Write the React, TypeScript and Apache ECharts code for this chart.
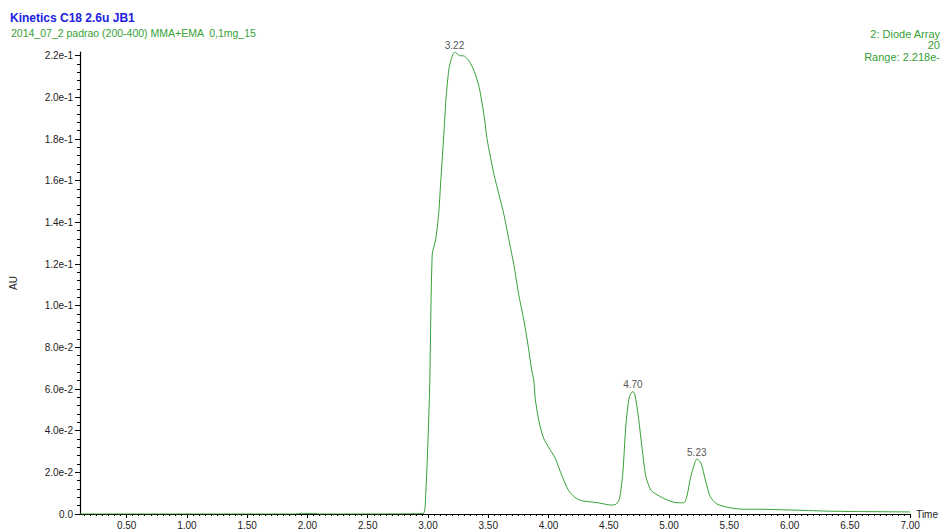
import React, { useEffect, useRef } from "react";
import * as echarts from "echarts";

// Chromatogram trace: retention time (min) and absorbance (AU)
const times = [
  0.113, 1.9, 1.95, 2.04, 2.1, 2.959, 2.981, 3.0, 3.014, 3.035, 3.063, 3.088, 3.104, 3.124,
  3.137, 3.151, 3.173, 3.192, 3.211, 3.22, 3.261, 3.302, 3.343, 3.384, 3.425, 3.466, 3.491,
  3.548, 3.589, 3.63, 3.671, 3.712, 3.753, 3.795, 3.836, 3.86, 3.877, 3.891, 3.918, 3.959,
  4.014, 4.055, 4.109, 4.164, 4.219, 4.274, 4.411, 4.52, 4.561, 4.589, 4.616, 4.643, 4.671,
  4.7, 4.717, 4.745, 4.781, 4.808, 4.849, 4.904, 4.986, 5.068, 5.123, 5.15, 5.177, 5.214,
  5.23, 5.265, 5.301, 5.342, 5.397, 5.506, 5.616, 5.726, 6.013, 6.301, 6.506, 7.0,
];
const absorbance = [
  0.0, 0.0, 0.0003, 0.0003, 0.0, 0.0002, 0.0099, 0.0356, 0.0612, 0.1245, 0.1317, 0.1437,
  0.158, 0.1757, 0.1877, 0.2005, 0.2134, 0.2182, 0.2211, 0.2218, 0.2201, 0.2198, 0.2173,
  0.2125, 0.2047, 0.1909, 0.1797, 0.1629, 0.1533, 0.1437, 0.1317, 0.1197, 0.1052, 0.0932,
  0.0788, 0.0692, 0.0644, 0.0548, 0.0452, 0.0364, 0.0308, 0.0268, 0.0187, 0.0115, 0.008,
  0.0064, 0.0054, 0.0043, 0.0047, 0.0075, 0.0196, 0.0436, 0.0564, 0.0588, 0.0572, 0.0468,
  0.0292, 0.0179, 0.0115, 0.0091, 0.0067, 0.0054, 0.0054, 0.0091, 0.0172, 0.0247, 0.0264,
  0.0244, 0.0163, 0.0083, 0.0048, 0.003, 0.0023, 0.0023, 0.0019, 0.0014, 0.0012, 0.001,
];

// Apex retention times annotated above the peaks
const peakTimes = [3.22, 4.7, 5.23];

// Axis ticks
const xTickValues = [0.5, 1.0, 1.5, 2.0, 2.5, 3.0, 3.5, 4.0, 4.5, 5.0, 5.5, 6.0, 6.5, 7.0];
const yTickValues = [0, 0.02, 0.04, 0.06, 0.08, 0.1, 0.12, 0.14, 0.16, 0.18, 0.2, 0.22];

// Header lines
const titleText = "Kinetics C18 2.6u JB1";
const sampleText = "2014_07_2 padrao (200-400) MMA+EMA  0,1mg_15";
const detectorLines = ["2: Diode Array", "20", "Range: 2.218e-"];

const X_MIN = 0.113;
const X_MAX = 7.0;
const Y_MAX = 0.2218;

const GREEN = "#36a036";
const FONT = "'Liberation Sans', Arial, sans-serif";

function formatAU(v: number): string {
  if (Math.abs(v) < 1e-12) return "0.0";
  const exp = Math.floor(Math.log10(v) + 1e-9);
  const m = v / Math.pow(10, exp);
  return m.toFixed(1) + "e" + exp;
}

function minorSteps(from: number, to: number, step: number): number[] {
  const out: number[] = [];
  const n = Math.round((to - from) / step);
  for (let i = 0; i <= n; i++) out.push(+(from + i * step).toFixed(4));
  return out;
}

export default function App() {
  const ref = useRef<HTMLDivElement>(null);

  useEffect(() => {
    if (!ref.current) return;
    const chart = echarts.init(ref.current, null, { renderer: "svg" });

    const trace = times.map((t, i) => [t, absorbance[i]]);
    const peaks = peakTimes.map((t) => {
      const idx = times.indexOf(t);
      return [t, absorbance[idx]];
    });

    const xMinor = minorSteps(0.15, 7.0, 0.05);
    const yMinor = minorSteps(0, 0.22, 0.004);

    const detectorY = [33.5, 45, 56.5];

    chart.setOption({
      animation: false,
      backgroundColor: "#ffffff",
      grid: { left: 77, right: 26, top: 52, bottom: 17, containLabel: false },
      xAxis: [
        {
          type: "value",
          min: X_MIN,
          max: X_MAX,
          name: "Time",
          nameLocation: "end",
          nameGap: 6,
          nameTextStyle: { color: "#222", fontSize: 10, fontFamily: FONT, align: "left" },
          axisLine: { show: true, onZero: false, lineStyle: { color: "#000", width: 1.2 } },
          axisTick: { show: true, length: 4, customValues: xTickValues, lineStyle: { color: "#000" } },
          axisLabel: {
            customValues: xTickValues,
            formatter: (v: number) => v.toFixed(2),
            color: "#222",
            fontSize: 10,
            fontFamily: FONT,
            margin: 6,
          },
          splitLine: { show: false },
        },
        {
          type: "value",
          min: X_MIN,
          max: X_MAX,
          position: "bottom",
          axisLine: { show: false, onZero: false },
          axisTick: { show: true, length: 2, customValues: xMinor, lineStyle: { color: "#000" } },
          axisLabel: { show: false },
          splitLine: { show: false },
        },
      ],
      yAxis: [
        {
          type: "value",
          min: 0,
          max: Y_MAX,
          name: "AU",
          nameLocation: "middle",
          nameGap: 62,
          nameRotate: 90,
          nameTextStyle: { color: "#222", fontSize: 10, fontFamily: FONT },
          axisLine: { show: true, onZero: false, lineStyle: { color: "#000", width: 1.2 } },
          axisTick: { show: true, length: 5, customValues: yTickValues, lineStyle: { color: "#000" } },
          axisLabel: {
            customValues: yTickValues,
            formatter: formatAU,
            color: "#222",
            fontSize: 10,
            fontFamily: FONT,
            margin: 7,
          },
          splitLine: { show: false },
        },
        {
          type: "value",
          min: 0,
          max: Y_MAX,
          position: "left",
          axisLine: { show: false, onZero: false },
          axisTick: { show: true, length: 3, customValues: yMinor, lineStyle: { color: "#000" } },
          axisLabel: { show: false },
          splitLine: { show: false },
        },
      ],
      series: [
        {
          type: "line",
          data: trace,
          showSymbol: false,
          smooth: 0.25,
          lineStyle: { color: GREEN, width: 1 },
          z: 3,
        },
        {
          type: "scatter",
          data: peaks,
          symbolSize: 0,
          label: {
            show: true,
            position: "top",
            distance: 2,
            formatter: (p: any) => (p.value[0] as number).toFixed(2),
            color: "#222",
            fontSize: 10,
            fontFamily: FONT,
          },
          z: 4,
        },
      ],
      graphic: [
        {
          type: "text",
          x: 10,
          y: 18,
          style: {
            text: titleText,
            fill: "#2020e0",
            font: `bold 12px ${FONT}`,
            align: "left",
            verticalAlign: "middle",
          },
        },
        {
          type: "text",
          x: 11,
          y: 33,
          style: {
            text: sampleText,
            fill: GREEN,
            font: `10.5px ${FONT}`,
            align: "left",
            verticalAlign: "middle",
          },
        },
        ...detectorLines.map((line, i) => ({
          type: "text",
          x: 940,
          y: detectorY[i],
          style: { text: line, fill: GREEN, font: `11px ${FONT}`, align: "right", verticalAlign: "middle" },
        })),
      ],
    });

    return () => chart.dispose();
  }, []);

  return (
    <div
      ref={ref}
      style={{ position: "fixed", left: 0, top: 0, width: "941px", height: "531px", background: "#fff" }}
    />
  );
}
